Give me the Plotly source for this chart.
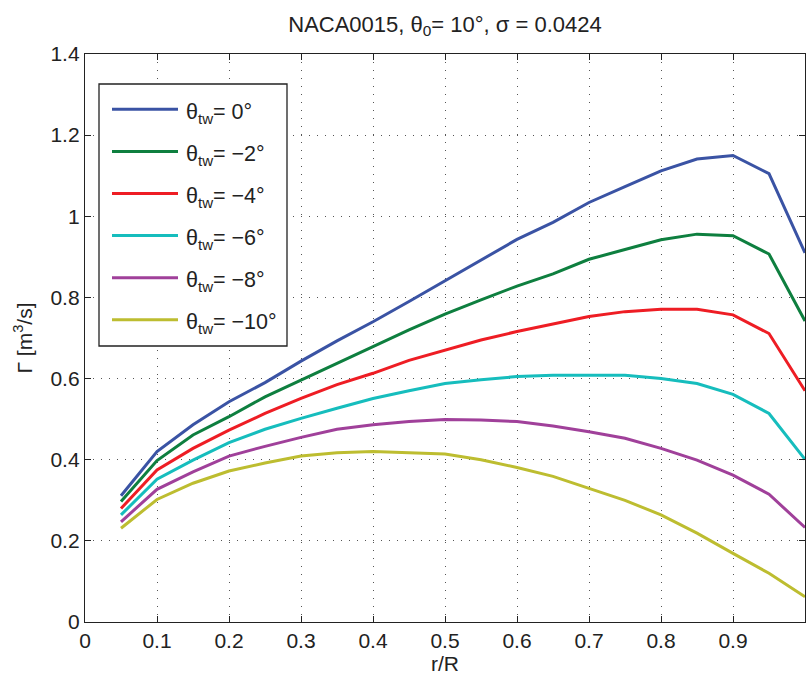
import plotly.graph_objects as go

# ---------------- data ----------------
r_over_R = [0.05, 0.10, 0.15, 0.20, 0.25, 0.30, 0.35, 0.40, 0.45, 0.50,
            0.55, 0.60, 0.65, 0.70, 0.75, 0.80, 0.85, 0.90, 0.95, 1.00]

gamma_tw0 = [0.311, 0.420, 0.486, 0.543, 0.590, 0.643, 0.693, 0.740, 0.790, 0.841,
             0.892, 0.943, 0.985, 1.034, 1.073, 1.112, 1.141, 1.150, 1.105, 0.910]
gamma_tw2 = [0.297, 0.398, 0.461, 0.506, 0.555, 0.597, 0.637, 0.679, 0.720, 0.759,
             0.794, 0.828, 0.858, 0.894, 0.918, 0.942, 0.956, 0.952, 0.907, 0.742]
gamma_tw4 = [0.280, 0.375, 0.428, 0.473, 0.514, 0.551, 0.585, 0.613, 0.645, 0.670,
             0.695, 0.716, 0.735, 0.753, 0.765, 0.771, 0.771, 0.757, 0.711, 0.570]
gamma_tw6 = [0.264, 0.352, 0.399, 0.442, 0.475, 0.502, 0.527, 0.551, 0.570, 0.588,
             0.597, 0.605, 0.608, 0.608, 0.608, 0.600, 0.588, 0.561, 0.514, 0.401]
gamma_tw8 = [0.247, 0.327, 0.370, 0.409, 0.433, 0.455, 0.475, 0.486, 0.494, 0.499,
             0.498, 0.494, 0.483, 0.469, 0.453, 0.428, 0.399, 0.362, 0.315, 0.233]
gamma_tw10 = [0.231, 0.302, 0.342, 0.372, 0.392, 0.409, 0.417, 0.420, 0.417, 0.414,
              0.400, 0.381, 0.359, 0.330, 0.300, 0.264, 0.219, 0.169, 0.120, 0.062]

series_values = [gamma_tw0, gamma_tw2, gamma_tw4, gamma_tw6, gamma_tw8, gamma_tw10]
series_names = ["θ<sub>tw</sub>= 0°", "θ<sub>tw</sub>= −2°", "θ<sub>tw</sub>= −4°",
                "θ<sub>tw</sub>= −6°", "θ<sub>tw</sub>= −8°", "θ<sub>tw</sub>= −10°"]
series_colors = ["#3A53A4", "#0E7F3F", "#EE1D24", "#16BDBD", "#A0409A", "#BDBD30"]

x_ticks = [0, 0.1, 0.2, 0.3, 0.4, 0.5, 0.6, 0.7, 0.8, 0.9, 1]
x_ticklabels = ["0", "0.1", "0.2", "0.3", "0.4", "0.5", "0.6", "0.7", "0.8", "0.9", "1"]
y_ticks = [0, 0.2, 0.4, 0.6, 0.8, 1.0, 1.2, 1.4]
y_ticklabels = ["0", "0.2", "0.4", "0.6", "0.8", "1", "1.2", "1.4"]

title_text = "NACA0015, θ<sub>0</sub>= 10°, σ = 0.0424"
x_title = "r/R"
y_title = "Γ [m<sup>3</sup>/s]"

# ---------------- layout constants ----------------
W, H = 809, 676
ML, MR, MT, MB = 85, 4, 54, 54
PW = W - ML - MR
PH = H - MT - MB
FONT = "Liberation Sans, Arial, Helvetica, sans-serif"
FS = 21


def px_x(p):
    return (p - ML) / PW


def px_y(p):
    return (H - MB - p) / PH


fig = go.Figure()
for vals, name, col in zip(series_values, series_names, series_colors):
    fig.add_trace(go.Scatter(x=r_over_R, y=vals, mode="lines", name=name,
                             line=dict(color=col, width=3), showlegend=False))

axis_common = dict(
    showline=True, linecolor="#222", linewidth=1.3, mirror="allticks",
    ticks="inside", ticklen=6, tickcolor="#222", tickwidth=1,
    showgrid=True, gridcolor="#555", gridwidth=1, griddash="1px,7px",
    zeroline=False, tickfont=dict(family=FONT, size=FS, color="#222"),
    automargin=False,
)

fig.update_xaxes(range=[0, 1], tickvals=x_ticks, ticktext=x_ticklabels,
                 title=dict(text=x_title, font=dict(family=FONT, size=FS, color="#222"), standoff=2),
                 **axis_common)
fig.update_yaxes(range=[0, 1.4], tickvals=y_ticks, ticktext=y_ticklabels,
                 title=dict(text=y_title, font=dict(family=FONT, size=FS, color="#222"), standoff=12),
                 **axis_common)

# legend drawn manually (box, line samples, labels)
box_l, box_r, box_t, box_b = 99, 287, 84, 346
row0, row_step = 109.3, 42.1
line_l, line_r, text_l = 112, 178, 184

shapes = [dict(type="rect", xref="paper", yref="paper",
               x0=px_x(box_l), x1=px_x(box_r), y0=px_y(box_b), y1=px_y(box_t),
               line=dict(color="#222", width=1.3), fillcolor="white", layer="above")]
annotations = []
for i, (name, col) in enumerate(zip(series_names, series_colors)):
    ry = row0 + i * row_step
    shapes.append(dict(type="line", xref="paper", yref="paper",
                       x0=px_x(line_l), x1=px_x(line_r), y0=px_y(ry), y1=px_y(ry),
                       line=dict(color=col, width=3), layer="above"))
    annotations.append(dict(xref="paper", yref="paper", x=px_x(text_l), y=px_y(ry),
                            xanchor="left", yanchor="middle", yshift=-4, showarrow=False,
                            text=name, font=dict(family=FONT, size=FS + 0.5, color="#222")))

fig.update_layout(
    width=W, height=H,
    margin=dict(l=ML, r=MR, t=MT, b=MB, autoexpand=False),
    paper_bgcolor="white", plot_bgcolor="white",
    font=dict(family=FONT, size=FS, color="#222"),
    title=dict(text=title_text, x=0.5, xref="paper", y=1 - 24 / H, yref="container",
               yanchor="middle", font=dict(family=FONT, size=22, color="#222")),
    shapes=shapes, annotations=annotations,
    showlegend=False,
)

fig.write_html("out.html", config={"displayModeBar": False},
               post_script="document.body.style.margin='0';document.body.style.overflow='hidden';")
